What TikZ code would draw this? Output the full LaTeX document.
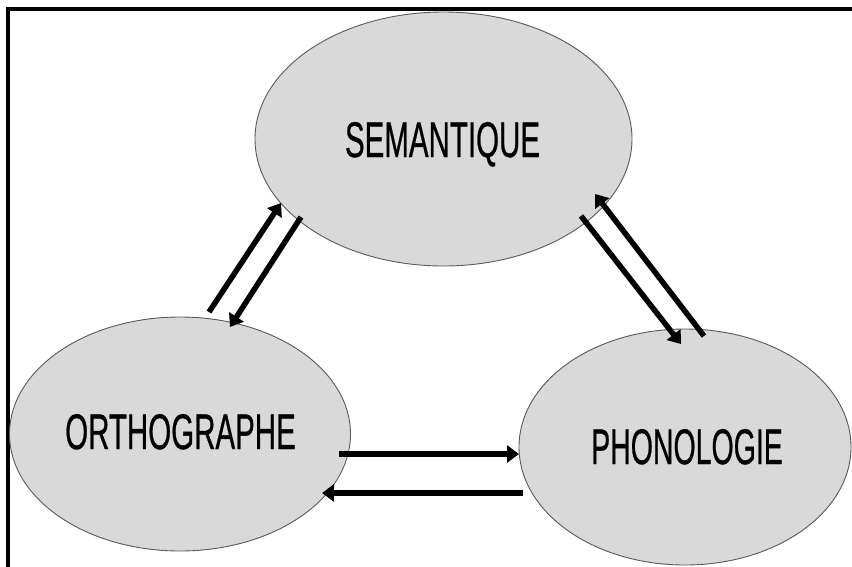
\documentclass[tikz,border=0pt]{standalone}
\usepackage{fontspec}
\usepackage{graphicx}
\setmainfont{Liberation Sans}
\newfontfamily\lblfont[FakeBold=0.8]{Liberation Sans}
\usetikzlibrary{shapes.geometric,arrows.meta}
\begin{document}
\begin{tikzpicture}[x=1pt,y=-1pt,
  bubble/.style={ellipse, draw=black!65, line width=0.9pt, fill=black!15, inner sep=0pt},
  lbl/.style={anchor=base, inner sep=0pt, font=\lblfont\fontsize{50}{50}\selectfont},
  link/.style={line width=5.5pt, -{Triangle[length=12pt,width=17pt]}, shorten >=0pt}
]
\useasboundingbox (0,0) rectangle (852,566);
\fill[white] (0,0) rectangle (852,566);
\draw[line width=3.5pt] (8,570) -- (8,9) -- (856,9);

\node[bubble, minimum width=377pt, minimum height=254pt] (sem) at (443.5,139) {};
\node[bubble, minimum width=341pt, minimum height=234pt] (ort) at (180,434) {};
\node[bubble, minimum width=332pt, minimum height=236pt] (pho) at (685,447) {};

\node[lbl] (semt) at (442.5,157) {\scalebox{0.59}[1]{SEMANTIQUE}};
\node[lbl] (ortt) at (180.5,449) {\scalebox{0.59}[1]{ORTHOGRAPHE}};
\node[lbl] (phot) at (687,464) {\scalebox{0.57}[1]{PHONOLOGIE}};

% endpoints
\coordinate (a1s) at (209,312);
\coordinate (a1e) at (281,203);
\coordinate (a2s) at (301,217);
\coordinate (a2e) at (230,327);
\coordinate (b1s) at (581,216);
\coordinate (b1e) at (681,344);
\coordinate (b2s) at (704,336);
\coordinate (b2e) at (595,194);
\coordinate (c1s) at (339,454);
\coordinate (c1e) at (519,454);
\coordinate (c2s) at (523,493);
\coordinate (c2e) at (322,493);

\draw[link] (a1s) -- (a1e);
\draw[link] (a2s) -- (a2e);
\draw[link] (b1s) -- (b1e);
\draw[link] (b2s) -- (b2e);
\draw[link] (c1s) -- (c1e);
\draw[link] (c2s) -- (c2e);
\end{tikzpicture}
\end{document}
